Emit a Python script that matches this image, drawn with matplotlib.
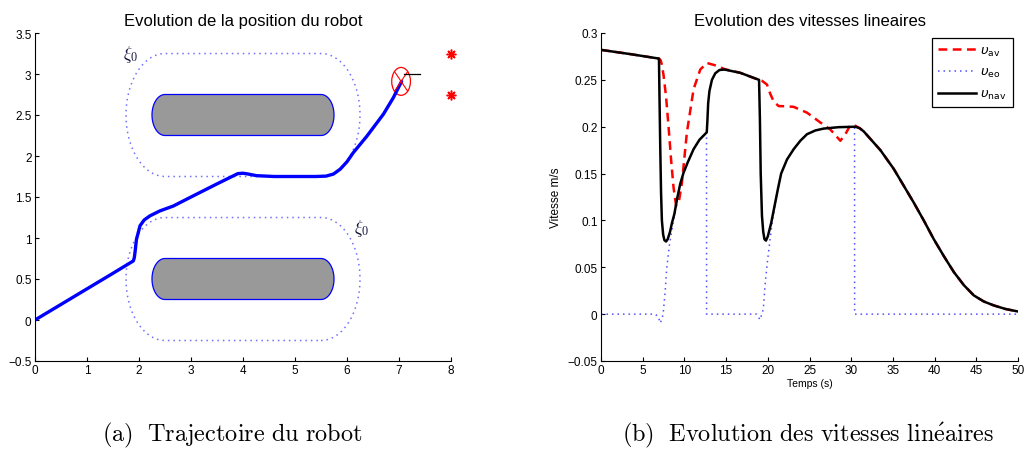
import numpy as np
from matplotlib import pyplot as plt
from matplotlib.patches import Ellipse, Polygon

plt.rcParams['font.family'] = ['Liberation Sans', 'DejaVu Sans']

# trajectoire du robot (x, y)
traj_x = [0.00, 0.50, 1.00, 1.50, 1.89, 1.91, 1.93, 1.95, 2.02, 2.10, 2.21, 2.40, 2.66,
          3.00, 3.50, 3.90, 4.00, 4.10, 4.26, 4.60, 5.00, 5.40, 5.60, 5.74, 5.87, 6.00,
          6.12, 6.38, 6.70, 6.89, 7.05]
traj_y = [0.00, 0.19, 0.38, 0.57, 0.72, 0.76, 0.86, 0.98, 1.15, 1.22, 1.27, 1.33, 1.39,
          1.50, 1.66, 1.785, 1.79, 1.78, 1.76, 1.75, 1.75, 1.75, 1.755, 1.78, 1.84, 1.93,
          2.04, 2.24, 2.51, 2.71, 2.91]

# obstacles: centre x, centre y, demi-longueur, rayon
obstacles = [(4.0, 2.5), (4.0, 0.5)]
obs_half = 1.5
obs_radius = 0.25
zone_radius = 0.75

robot_pos = (7.04, 2.91)
robot_size = (0.36, 0.34)
goal_line_x = [7.1, 7.4]
goal_line_y = [3.0, 3.0]
stars_x = [8.0, 8.0]
stars_y = [3.25, 2.75]
xi_labels = [(1.83, 3.25), (6.29, 1.13)]

# vitesses lineaires
t_av = [0, 3.5, 6.95, 7.15, 7.3, 7.5, 7.8, 8.1, 8.4, 8.7, 9.0, 9.3, 9.7, 10.3, 11.1,
        11.9, 12.7, 13.9, 14.8, 16.7, 18.9, 19.3, 19.9, 20.3, 20.7, 21.3, 22.2, 23.1,
        24.7, 26.3, 27.5, 28.7, 29.3, 29.9, 30.5, 31.0, 31.5, 32.0, 32.7, 33.5, 34.3,
        35.1, 36.3, 37.5, 38.7, 39.9, 41.1, 42.3, 43.5, 44.7, 45.9, 47.1, 48.5, 49.9]
v_av = [0.282, 0.2775, 0.2727, 0.271, 0.266, 0.255, 0.232, 0.200, 0.165, 0.135, 0.116,
        0.118, 0.140, 0.194, 0.240, 0.261, 0.268, 0.265, 0.2615, 0.2575, 0.250, 0.249,
        0.245, 0.235, 0.227, 0.222, 0.2218, 0.2212, 0.215, 0.2045, 0.197, 0.185, 0.192,
        0.2017, 0.201, 0.1985, 0.195, 0.190, 0.183, 0.175, 0.165, 0.155, 0.137, 0.119,
        0.100, 0.080, 0.062, 0.045, 0.031, 0.020, 0.0135, 0.0093, 0.0055, 0.003]

t_eo = [0, 6.5, 6.9, 7.07, 7.3, 7.47, 7.7, 7.87, 8.19, 8.47, 8.8, 9.1, 9.5, 9.9, 10.4,
        11.1, 11.8, 12.65, 12.66, 18.67, 19.07, 19.46, 19.66, 19.94, 20.18, 20.47, 20.86,
        21.2, 21.6, 22.3, 23.1, 23.9, 24.7, 25.7, 26.7, 28.5, 30.4, 30.41, 50]
v_eo = [0, 0, -0.003, -0.0095, -0.006, 0.002, 0.025, 0.048, 0.073, 0.088, 0.105, 0.122,
        0.139, 0.151, 0.162, 0.176, 0.186, 0.194, 0, 0, -0.006, 0.005, 0.030, 0.055,
        0.073, 0.094, 0.117, 0.133, 0.150, 0.165, 0.176, 0.185, 0.192, 0.196, 0.198,
        0.1995, 0.200, 0, 0]

t_nav = [0, 3.5, 6.95, 7.0, 7.1, 7.2, 7.3, 7.45, 7.6, 7.8, 8.0, 8.28, 8.5, 8.8, 9.1,
         9.5, 9.9, 10.4, 11.1, 11.8, 12.68, 12.75, 12.85, 13.0, 13.3, 13.7, 14.2, 14.8,
         16.7, 18.95, 19.05, 19.15, 19.3, 19.45, 19.6, 19.78, 20.0, 20.4, 20.8, 21.2,
         21.6, 22.3, 23.1, 23.9, 24.7, 25.7, 26.7, 28.5, 30.5, 31.0, 31.5, 32.0, 32.7,
         33.5, 34.3, 35.1, 36.3, 37.5, 38.7, 39.9, 41.1, 42.3, 43.5, 44.7, 45.9, 47.1,
         48.5, 49.9]
v_nav = [0.282, 0.2775, 0.2727, 0.24, 0.18, 0.13, 0.10, 0.085, 0.079, 0.0775, 0.080,
         0.088, 0.097, 0.107, 0.122, 0.139, 0.151, 0.162, 0.176, 0.186, 0.194, 0.205,
         0.225, 0.238, 0.250, 0.257, 0.2605, 0.261, 0.2575, 0.250, 0.21, 0.15, 0.105,
         0.088, 0.080, 0.0785, 0.083, 0.097, 0.115, 0.133, 0.150, 0.165, 0.176, 0.185,
         0.192, 0.196, 0.198, 0.1995, 0.200, 0.1985, 0.195, 0.190, 0.183, 0.175, 0.165,
         0.155, 0.137, 0.119, 0.100, 0.080, 0.062, 0.045, 0.031, 0.020, 0.0135, 0.0093,
         0.0055, 0.003]


def stadium(xc, yc, half_len, r, n=80):
    th = np.linspace(-np.pi / 2, np.pi / 2, n)
    xs = np.concatenate([xc + half_len + r * np.cos(th), xc - half_len - r * np.cos(th)])
    ys = np.concatenate([yc + r * np.sin(th), yc - r * np.sin(th)])
    return np.append(xs, xs[0]), np.append(ys, ys[0])


def style_axes(ax):
    ax.spines['top'].set_visible(False)
    ax.spines['right'].set_visible(False)
    ax.tick_params(direction='in', length=3, width=0.8, labelsize=8.5, pad=2.5,
                   top=False, right=False)


fig = plt.figure(figsize=(10.25, 4.52), dpi=100)
ax1 = fig.add_axes([35 / 1025, 90 / 452, 416 / 1025, 328 / 452])
ax2 = fig.add_axes([601 / 1025, 90 / 452, 417 / 1025, 328 / 452])

# (a) trajectoire
for xc, yc in obstacles:
    zx, zy = stadium(xc, yc, obs_half, zone_radius)
    ax1.plot(zx, zy, color='#7070ff', lw=1.1, dashes=(1, 2.6))
    ox, oy = stadium(xc, yc, obs_half, obs_radius)
    ax1.add_patch(Polygon(np.column_stack([ox, oy]), closed=True, facecolor='#999999',
                          edgecolor='#0000ff', lw=0.9))

ax1.plot(traj_x, traj_y, color='#0000ff', lw=2.4, solid_capstyle='round')
ax1.add_patch(Ellipse(robot_pos, robot_size[0], robot_size[1], fill=False,
                      edgecolor='#ff0000', lw=0.9))
rx, ry = robot_pos
dx, dy = robot_size[0] / 2 * 0.7, robot_size[1] / 2 * 0.7
ax1.plot([rx - dx, rx + dx], [ry + dy, ry - dy], color='#ff0000', lw=0.8)
ax1.plot([rx - dx, rx + dx], [ry - dy, ry + dy], color='#ff0000', lw=0.8)
ax1.plot(goal_line_x, goal_line_y, color='k', lw=0.9)
ax1.plot(stars_x, stars_y, ls='none', marker=(8, 2, 0), color='#ff0000', ms=7,
         mew=1.1, clip_on=False)
for lx, ly in xi_labels:
    ax1.text(lx, ly, r'$\xi_0$', fontsize=12.5, color='#10103a', ha='center',
             va='center', math_fontfamily='cm')

ax1.set_xlim(0, 8)
ax1.set_ylim(-0.5, 3.5)
ax1.set_xticks(range(0, 9))
ax1.set_yticks(np.arange(-0.5, 3.51, 0.5))
ax1.set_yticklabels(['\u22120.5', '0', '0.5', '1', '1.5', '2', '2.5', '3', '3.5'])
ax1.set_title('Evolution de la position du robot', fontsize=12, pad=6)
style_axes(ax1)

# (b) vitesses
ax2.plot(t_av, v_av, color='#ff0000', lw=1.8, dashes=(3.5, 2.2), label=r'$\upsilon_{\rm av}$')
ax2.plot(t_eo, v_eo, color='#5050ff', lw=1.1, dashes=(1, 2.6), label=r'$\upsilon_{\rm eo}$')
ax2.plot(t_nav, v_nav, color='k', lw=1.8, label=r'$\upsilon_{\rm nav}$')
ax2.set_xlim(0, 50)
ax2.set_ylim(-0.05, 0.3)
ax2.set_xticks(range(0, 51, 5))
ax2.set_yticks([-0.05, 0, 0.05, 0.1, 0.15, 0.2, 0.25, 0.3])
ax2.set_yticklabels(['\u22120.05', '0', '0.05', '0.1', '0.15', '0.2', '0.25', '0.3'])
ax2.set_title('Evolution des vitesses lineaires', fontsize=12, pad=6)
ax2.set_xlabel('Temps (s)', fontsize=7.5, labelpad=1)
ax2.set_ylabel('Vitesse m/s', fontsize=8.5, labelpad=4)
style_axes(ax2)
leg = ax2.legend(loc='upper right', fontsize=9.5, handlelength=2.9, handletextpad=0.3,
                 labelspacing=0.65, borderpad=0.45, borderaxespad=0.4, fancybox=False,
                 framealpha=1, edgecolor='k')
leg.get_frame().set_linewidth(0.9)

fig.text(232 / 1025, 1 - 441 / 452, r'$\mathrm{(a)\ \ Trajectoire\ du\ robot}$',
         fontsize=17.5, ha='center', va='baseline', math_fontfamily='cm')
fig.text(808 / 1025, 1 - 441 / 452,
         r'$\mathrm{(b)\ \ Evolution\ des\ vitesses\ lin\acute{e}aires}$',
         fontsize=17.5, ha='center', va='baseline', math_fontfamily='cm')

fig.savefig('out.png', dpi=100)
